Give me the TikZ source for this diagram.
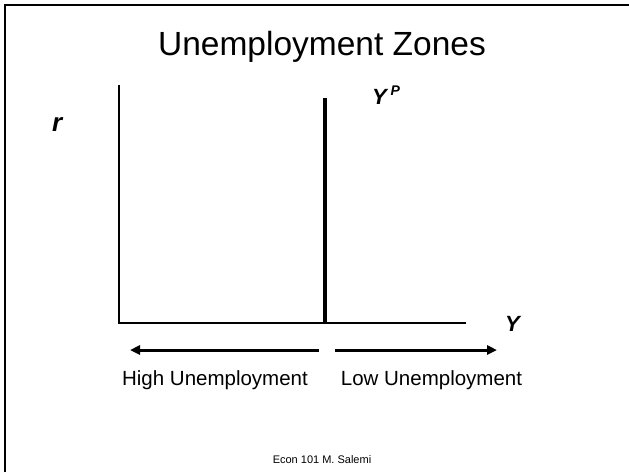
\documentclass[tikz,border=0pt]{standalone}
\usepackage{fontspec}
\setmainfont{Liberation Sans}
\usetikzlibrary{arrows.meta}
\begin{document}
\begin{tikzpicture}[x=1pt, y=-1pt,
    frame/.style={line width=2pt, draw=black},
    axis/.style={line width=2pt, draw=black},
    ypline/.style={line width=4.5pt, draw=black},
    zonearrow/.style={-{Triangle[length=10pt,width=9pt]}, line width=3pt},
    varlabel/.style={font=\fontsize{22}{26}\selectfont\bfseries\itshape, anchor=base west, inner sep=0pt},
    zonelabel/.style={font=\fontsize{20.5}{24}\selectfont, anchor=base, inner sep=0pt},
]
\useasboundingbox (0,0) rectangle (629,472);
% slide frame, only top and left edges show
\coordinate (fbot) at (5,472);
\coordinate (fcorner) at (5,5);
\coordinate (fright) at (629,5);
\draw[frame] (fbot) -- (fcorner) -- (fright);

\node[anchor=base, inner sep=0pt, font=\fontsize{33.5}{40}\selectfont] (title) at (322,55) {Unemployment Zones};

% axes
\coordinate (origin) at (119,323);
\coordinate (rtop) at (119,85);
\coordinate (yend) at (466,323);
\draw[axis] (rtop) -- (origin) -- (yend);

% potential output
\coordinate (yptop) at (325,98);
\coordinate (ypbot) at (325,323);
\draw[ypline] (yptop) -- (ypbot);

\node[varlabel, font=\fontsize{26}{30}\selectfont\bfseries\itshape] (rlab) at (52,131) {r};
\node[varlabel] (ylab) at (505,331) {Y};
\node[varlabel] (yplab) at (372,104) {Y\,\raisebox{0.4em}{\fontsize{14}{14}\selectfont P}};

% zones
\coordinate (hstart) at (319,350);
\coordinate (hend) at (130,350);
\coordinate (lstart) at (335,350);
\coordinate (lend) at (497,350);
\draw[zonearrow] (hstart) -- (hend);
\draw[zonearrow] (lstart) -- (lend);
\node[zonelabel] (high) at (215,385) {High Unemployment};
\node[zonelabel] (low) at (431.5,385) {Low Unemployment};

\node[anchor=base, inner sep=0pt, font=\fontsize{11}{13}\selectfont] (footer) at (322,463) {Econ 101 M. Salemi};
\end{tikzpicture}
\end{document}
